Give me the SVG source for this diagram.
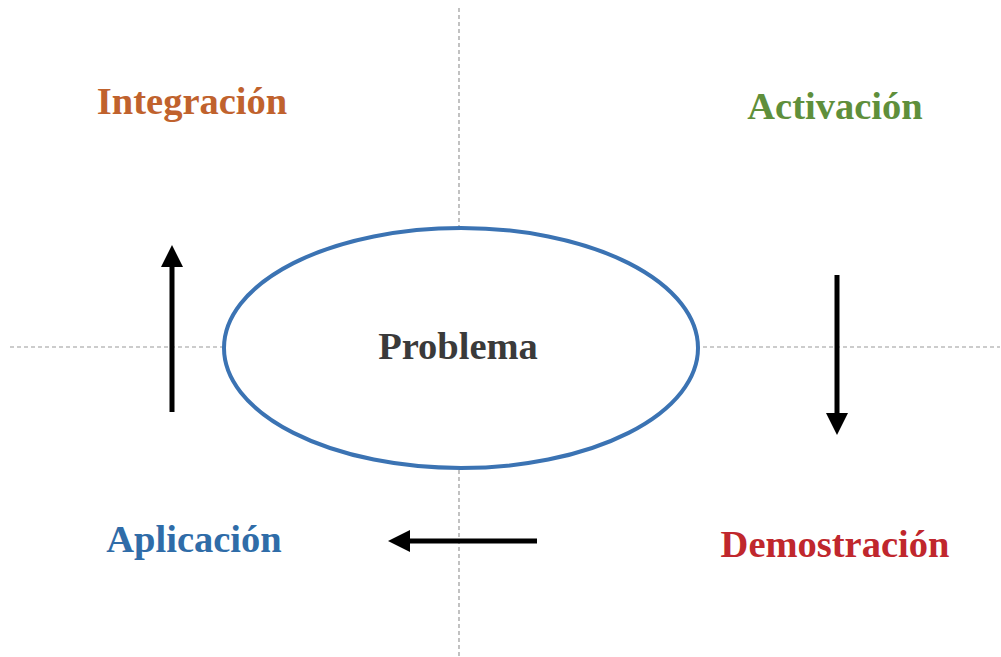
<svg xmlns="http://www.w3.org/2000/svg" width="1001" height="657" viewBox="0 0 1001 657">
<style>
.guide{stroke:#999;stroke-width:1.2;stroke-dasharray:4 3;fill:none}
.arr{stroke:#000;stroke-width:5;fill:none;marker-end:url(#ah)}
.lbl{font-family:"Liberation Serif","Times New Roman",serif;font-weight:bold;font-size:38.5px;text-anchor:middle}
</style>
<defs>
<marker id="ah" viewBox="0 0 10 10" refX="5" refY="5" markerWidth="4.4" markerHeight="4.4" orient="auto" markerUnits="strokeWidth">
<path d="M0,0 L10,5 L0,10 z" fill="#000"/>
</marker>
</defs>
<rect width="1001" height="657" fill="#fff"/>
<g id="guides">
<line class="guide" x1="459" y1="8" x2="459" y2="657"/>
<line class="guide" x1="10" y1="347" x2="1000" y2="347"/>
</g>
<g id="problema">
<ellipse cx="461" cy="348" rx="237" ry="120" fill="#fff" stroke="#3b73b3" stroke-width="4"/>
<text class="lbl" x="458" y="359" fill="#3a3a3a">Problema</text>
</g>
<g id="integracion"><text class="lbl" x="192" y="114" fill="#c0622d">Integración</text></g>
<g id="activacion"><text class="lbl" x="835" y="119" fill="#5f8f3b">Activación</text></g>
<g id="aplicacion"><text class="lbl" x="194" y="552" fill="#2f6ca8">Aplicación</text></g>
<g id="demostracion"><text class="lbl" x="835" y="557" fill="#c0272d">Demostración</text></g>
<g id="connectors">
<line class="arr" x1="172" y1="412" x2="172" y2="256"/>
<line class="arr" x1="837" y1="275" x2="837" y2="424"/>
<line class="arr" x1="537" y1="541" x2="399" y2="541"/>
</g>
</svg>
